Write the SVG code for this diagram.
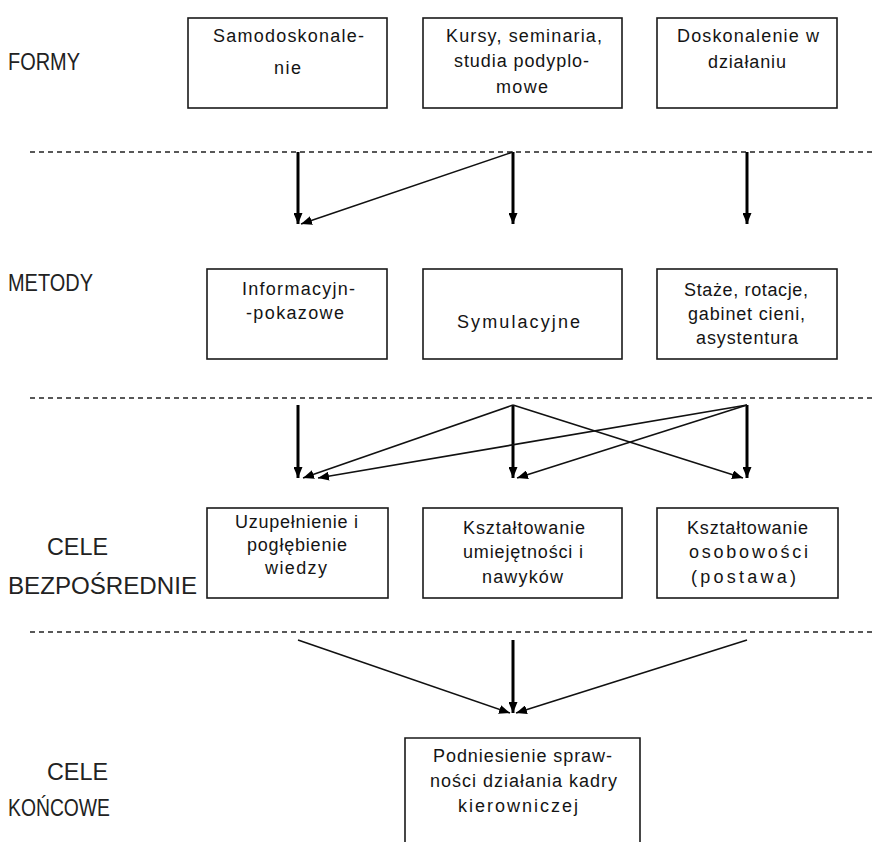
<svg xmlns="http://www.w3.org/2000/svg" width="875" height="842" viewBox="0 0 875 842">
<style>
.box{fill:#fff;stroke:#1a1a1a;stroke-width:1.6}
.t{font-family:"Liberation Sans",Arial,sans-serif;font-size:18px;fill:#141414}
.lab{font-family:"Liberation Sans",Arial,sans-serif;font-size:23px;fill:#222}
.dash{stroke:#222;stroke-width:1.6;stroke-dasharray:5,4;fill:none}
.thick{stroke:#000;stroke-width:3;fill:none}
.thin{stroke:#111;stroke-width:1.6;fill:none}
</style>
<defs>
<marker id="ah" markerUnits="userSpaceOnUse" markerWidth="11" markerHeight="9" refX="11" refY="4.5" orient="auto">
<path d="M0,0 L11,4.5 L0,9 z" fill="#000"/>
</marker>
</defs>
<rect width="875" height="842" fill="#fff"/>

<g id="labels">
<text class="lab" x="8" y="70" textLength="72" lengthAdjust="spacingAndGlyphs">FORMY</text>
<text class="lab" x="8" y="291" textLength="85" lengthAdjust="spacingAndGlyphs">METODY</text>
<text class="lab" x="47" y="555" textLength="61" lengthAdjust="spacingAndGlyphs">CELE</text>
<text class="lab" x="8" y="594" textLength="189" lengthAdjust="spacingAndGlyphs">BEZPOŚREDNIE</text>
<text class="lab" x="47" y="780" textLength="61" lengthAdjust="spacingAndGlyphs">CELE</text>
<text class="lab" x="8" y="816" textLength="102" lengthAdjust="spacingAndGlyphs">KOŃCOWE</text>
</g>

<g id="dividers">
<line class="dash" x1="30" y1="152" x2="875" y2="152"/>
<line class="dash" x1="30" y1="398" x2="875" y2="398"/>
<line class="dash" x1="30" y1="632" x2="875" y2="632"/>
</g>

<g id="f1">
<rect class="box" x="188" y="18" width="199" height="90"/>
<text class="t" x="213" y="42" textLength="151">Samodoskonale-</text>
<text class="t" x="274" y="74" textLength="27">nie</text>
</g>
<g id="f2">
<rect class="box" x="423" y="18" width="199" height="90"/>
<text class="t" x="446" y="42" textLength="156">Kursy, seminaria,</text>
<text class="t" x="454" y="67" textLength="135">studia podyplo-</text>
<text class="t" x="496" y="93" textLength="52">mowe</text>
</g>
<g id="f3">
<rect class="box" x="657" y="18" width="180" height="90"/>
<text class="t" x="677" y="42" textLength="142">Doskonalenie w</text>
<text class="t" x="708" y="68" textLength="78">działaniu</text>
</g>

<g id="m1">
<rect class="box" x="207" y="269" width="180" height="90"/>
<text class="t" x="242" y="295" textLength="113">Informacyjn-</text>
<text class="t" x="246" y="319" textLength="98">-pokazowe</text>
</g>
<g id="m2">
<rect class="box" x="423" y="269" width="199" height="90"/>
<text class="t" x="457" y="328" textLength="123">Symulacyjne</text>
</g>
<g id="m3">
<rect class="box" x="657" y="269" width="180" height="90"/>
<text class="t" x="684" y="296" textLength="124">Staże, rotacje,</text>
<text class="t" x="688" y="320" textLength="117">gabinet cieni,</text>
<text class="t" x="696" y="344" textLength="102">asystentura</text>
</g>

<g id="c1">
<rect class="box" x="207" y="508" width="181" height="90"/>
<text class="t" x="235" y="528" textLength="123">Uzupełnienie i</text>
<text class="t" x="247" y="551" textLength="100">pogłębienie</text>
<text class="t" x="265" y="574" textLength="62">wiedzy</text>
</g>
<g id="c2">
<rect class="box" x="423" y="508" width="199" height="90"/>
<text class="t" x="463" y="534" textLength="122">Kształtowanie</text>
<text class="t" x="463" y="558" textLength="120">umiejętności i</text>
<text class="t" x="482" y="583" textLength="81">nawyków</text>
</g>
<g id="c3">
<rect class="box" x="657" y="508" width="181" height="90"/>
<text class="t" x="687" y="534" textLength="121">Kształtowanie</text>
<text class="t" x="689" y="558" textLength="119">osobowości</text>
<text class="t" x="691" y="583" textLength="105">(postawa)</text>
</g>

<g id="k1">
<path class="box" d="M405,843 V738 H640 V843"/>
<text class="t" x="433" y="762" textLength="179">Podniesienie spraw-</text>
<text class="t" x="430" y="787" textLength="187">ności działania kadry</text>
<text class="t" x="458" y="812" textLength="120">kierowniczej</text>
</g>

<g id="connectors">
<line class="thick" x1="298" y1="152" x2="298" y2="224" marker-end="url(#ah)"/>
<line class="thick" x1="513" y1="152" x2="513" y2="224" marker-end="url(#ah)"/>
<line class="thick" x1="747" y1="152" x2="747" y2="224" marker-end="url(#ah)"/>
<line class="thin" x1="513" y1="152" x2="301" y2="224" marker-end="url(#ah)"/>

<line class="thick" x1="298" y1="405" x2="298" y2="478" marker-end="url(#ah)"/>
<line class="thick" x1="513" y1="405" x2="513" y2="478" marker-end="url(#ah)"/>
<line class="thick" x1="747" y1="405" x2="747" y2="478" marker-end="url(#ah)"/>
<line class="thin" x1="513" y1="405" x2="303" y2="478" marker-end="url(#ah)"/>
<line class="thin" x1="747" y1="405" x2="318" y2="478" marker-end="url(#ah)"/>
<line class="thin" x1="747" y1="405" x2="517" y2="478" marker-end="url(#ah)"/>
<line class="thin" x1="513" y1="405" x2="743" y2="478" marker-end="url(#ah)"/>

<line class="thin" x1="298" y1="640" x2="510" y2="713" marker-end="url(#ah)"/>
<line class="thick" x1="513" y1="640" x2="513" y2="713" marker-end="url(#ah)"/>
<line class="thin" x1="747" y1="640" x2="516" y2="713" marker-end="url(#ah)"/>
</g>
</svg>
